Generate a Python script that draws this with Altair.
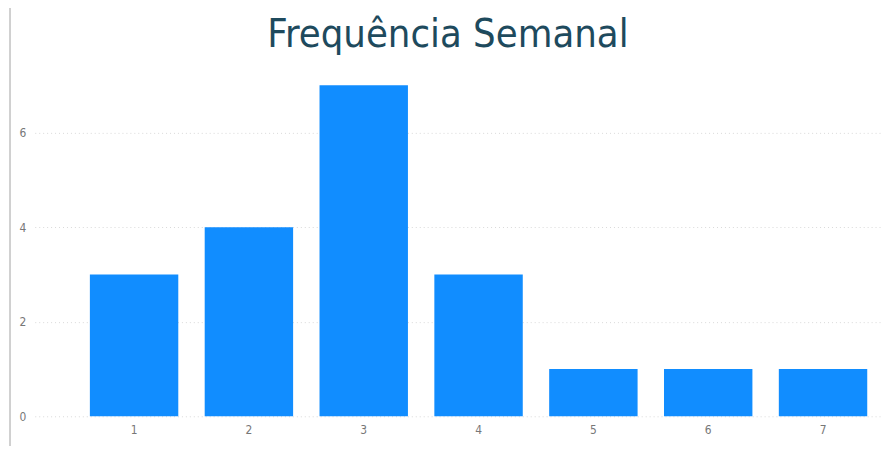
import altair as alt
import pandas as pd

dias = ["1", "2", "3", "4", "5", "6", "7"]
frequencia = [3, 4, 7, 3, 1, 1, 1]

df = pd.DataFrame({"dia": dias, "freq": frequencia})

bars = alt.Chart(df).mark_bar(color="#118DFF").encode(
    x=alt.X("dia:N", sort=dias, title=None,
            scale=alt.Scale(paddingInner=0.23, paddingOuter=0.30, align=0.8),
            axis=alt.Axis(labelAngle=0, labelColor="#777777", labelFontSize=12,
                          labelFont="DejaVu Sans Condensed", ticks=False, domain=False,
                          labelPadding=8)),
    y=alt.Y("freq:Q", title=None,
            scale=alt.Scale(domain=[0, 7], nice=False),
            axis=alt.Axis(values=[0, 2, 4, 6], labelColor="#777777", labelFontSize=12,
                          labelFont="DejaVu Sans Condensed", ticks=False, domain=False,
                          grid=True, gridColor="#d9d9d9", gridDash=[1, 3], gridWidth=1,
                          labelPadding=9)),
)

border = alt.Chart(df).mark_rule(color="#d0d0d0", strokeWidth=1).encode(
    x=alt.value(-25), y=alt.value(-84), y2=alt.value(364)
)

chart = alt.layer(border, bars).properties(
    width=854, height=334,
    autosize=alt.AutoSizeParams(type="none"),
    padding={"left": 27, "top": 76, "right": 2, "bottom": 30},
    title=alt.TitleParams("Frequência Semanal", fontSize=40, font="DejaVu Sans Condensed",
                          fontWeight="normal", color="#1E4A5D", anchor="middle",
                          baseline="alphabetic", offset=-86, dx=-10),
).configure_view(stroke=None)

chart.save("out.html", embed_options={"renderer": "svg", "actions": False})
